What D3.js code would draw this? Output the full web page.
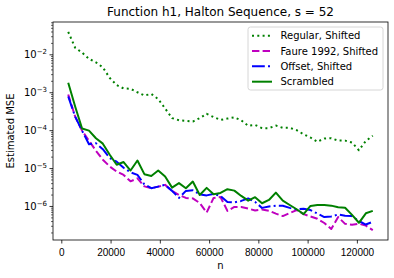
<!DOCTYPE html>
<html>
<head>
<meta charset="utf-8">
<script src="https://cdn.jsdelivr.net/npm/d3@7"></script>
<style>
  body { margin: 0; background: #fff; }
  svg { display: block; font-family: "DejaVu Sans", sans-serif; }
</style>
</head>
<body>
<div id="app"></div>
<script>
const W = 394, H = 278
const margin = { left: 53, right: 6, top: 22, bottom: 38 }

// sample sizes n
const nValues = [2810, 5620, 8430, 11240, 14050, 16860, 19670, 22480, 25290, 28100,
  30910, 33720, 36530, 39340, 42150, 44960, 47770, 50580, 53390, 56200,
  59010, 61820, 64630, 67440, 70250, 73060, 75870, 78680, 81490, 84300,
  87110, 89920, 92730, 95540, 98350, 101160, 103970, 106780, 109590, 112400,
  115210, 118020, 120830, 123640, 126450]

const regularShifted = [0.039, 0.0149, 0.0111, 0.0076, 0.00614, 0.00453, 0.00238, 0.00154, 0.00126, 0.00123,
  0.000997, 0.00082, 0.0009, 0.00066, 0.000372, 0.000208, 0.000182, 0.000176, 0.000168, 0.000208,
  0.00027, 0.000221, 0.000186, 0.000202, 0.000218, 0.000181, 0.00013, 0.000137, 0.000113, 0.000113,
  0.000132, 0.000115, 0.000115, 0.0001, 7.8e-5, 6.4e-5, 4.95e-5, 6.0e-5, 6.1e-5, 5.3e-5,
  5.3e-5, 4.7e-5, 2.95e-5, 5.2e-5, 7.1e-5]

const faureShifted = [8.7e-4, 2.28e-4, 9.7e-5, 5.27e-5, 2.86e-5, 1.66e-5, 1.1e-5, 8.1e-6, 6.6e-6, 4.46e-6,
  5.35e-6, 3.29e-6, 2.94e-6, 3.24e-6, 3.6e-6, 2.5e-6, 1.95e-6, 1.63e-6, 1.58e-6, 1.2e-6,
  6.7e-7, 1.63e-6, 1.73e-6, 7.4e-7, 9.4e-7, 9.4e-7, 8.5e-7, 7.6e-7, 8.1e-7, 7.5e-7,
  6.3e-7, 5.4e-7, 6.5e-7, 7.8e-7, 6.1e-7, 5.3e-7, 4.6e-7, 3.55e-7, 2.46e-7, 5.1e-7,
  3.37e-7, 3.21e-7, 3.4e-7, 3.04e-7, 2.31e-7]

const offsetShifted = [7.7e-4, 2.28e-4, 9.7e-5, 4.26e-5, 4.53e-5, 3.14e-5, 1.84e-5, 1.47e-5, 1.02e-5, 7.7e-6,
  6.6e-6, 3.72e-6, 2.94e-6, 3.24e-6, 3.6e-6, 2.5e-6, 1.63e-6, 2.5e-6, 2.58e-6, 2.02e-6,
  1.9e-6, 2.08e-6, 1.84e-6, 1.28e-6, 1.24e-6, 1.36e-6, 1.58e-6, 1.28e-6, 8.9e-7, 9.7e-7,
  1.02e-6, 1.01e-6, 8.9e-7, 8.2e-7, 8.4e-7, 7.8e-7, 6.3e-7, 5.1e-7, 5.3e-7, 5.96e-7,
  5.5e-7, 5.4e-7, 4.0e-7, 3.24e-7, 3.84e-7]

const scrambled = [1.78e-3, 4.2e-4, 1.1e-4, 9.7e-5, 6.1e-5, 4.4e-5, 2.24e-5, 1.22e-5, 1.44e-5, 8.6e-6,
  1.58e-5, 6.9e-6, 6.2e-6, 8.6e-6, 6.0e-6, 3.05e-6, 4.0e-6, 2.94e-6, 4.4e-6, 1.95e-6,
  3.0e-6, 2.04e-6, 2.21e-6, 2.77e-6, 2.54e-6, 1.84e-6, 1.38e-6, 1.7e-6, 1.18e-6, 1.44e-6,
  2.25e-6, 1.38e-6, 1.06e-6, 8.2e-7, 6.1e-7, 1.0e-6, 1.06e-6, 1.06e-6, 1.02e-6, 9.2e-7,
  9.0e-7, 5.8e-7, 3.6e-7, 6.4e-7, 7.4e-7]

const xTicks = [0, 20000, 40000, 60000, 80000, 100000, 120000]
const yTickExps = [-6, -5, -4, -3, -2]

const series = [
  { name: 'Regular, Shifted', values: regularShifted, color: '#008000', dash: '2,3.3' },
  { name: 'Faure 1992, Shifted', values: faureShifted, color: '#bf00bf', dash: '7.4,3.2' },
  { name: 'Offset, Shifted', values: offsetShifted, color: '#0000ff', dash: '12.8,3.2,2,3.2' },
  { name: 'Scrambled', values: scrambled, color: '#008000', dash: null }
]

const x0 = margin.left, x1 = W - margin.right
const y0 = margin.top, y1 = H - margin.bottom

// matplotlib style 5% margins
const nMin = d3.min(nValues), nMax = d3.max(nValues)
const nPad = (nMax - nMin) * 0.05
const x = d3.scaleLinear().domain([nMin - nPad, nMax + nPad]).range([x0, x1])

const all = series.flatMap(s => s.values)
const lMin = Math.log10(d3.min(all)), lMax = Math.log10(d3.max(all))
const lPad = (lMax - lMin) * 0.05
const y = d3.scaleLog().domain([10 ** (lMin - lPad), 10 ** (lMax + lPad)]).range([y1, y0])

const svg = d3.select('#app').append('svg')
  .attr('width', W)
  .attr('height', H)

svg.append('defs').append('clipPath').attr('id', 'clip')
  .append('rect')
  .attr('x', x0).attr('y', y0)
  .attr('width', x1 - x0).attr('height', y1 - y0)

// lines
const line = d3.line()
  .x((d, i) => x(nValues[i]))
  .y(d => y(d))

const plot = svg.append('g').attr('clip-path', 'url(#clip)')
series.forEach(s => {
  plot.append('path')
    .datum(s.values)
    .attr('d', line)
    .attr('fill', 'none')
    .attr('stroke', s.color)
    .attr('stroke-width', 2)
    .attr('stroke-dasharray', s.dash)
    .attr('stroke-linejoin', 'round')
})

// x axis
const xAxis = svg.append('g')
  .attr('transform', `translate(0,${y1})`)
  .call(d3.axisBottom(x).tickValues(xTicks).tickFormat(d3.format('d')).tickSize(3.5).tickSizeOuter(0))
xAxis.select('.domain').remove()
xAxis.selectAll('text').attr('font-size', 10).attr('fill', '#000').attr('dy', '0.9em')
xAxis.selectAll('line').attr('stroke', '#000').attr('stroke-width', 0.8)

// y axis, major + minor
const minorVals = []
for (let e = -7; e <= -1; e++) {
  for (let m = 2; m <= 9; m++) {
    const v = m * 10 ** e
    if (v >= y.domain()[0] && v <= y.domain()[1]) minorVals.push(v)
  }
}
const yMinor = svg.append('g').attr('transform', `translate(${x0},0)`)
  .call(d3.axisLeft(y).tickValues(minorVals).tickFormat('').tickSize(2).tickSizeOuter(0))
yMinor.select('.domain').remove()
yMinor.selectAll('line').attr('stroke', '#000').attr('stroke-width', 0.6)

const yAxis = svg.append('g').attr('transform', `translate(${x0},0)`)
  .call(d3.axisLeft(y).tickValues(yTickExps.map(e => 10 ** e)).tickFormat('').tickSize(3.5).tickSizeOuter(0))
yAxis.select('.domain').remove()
yAxis.selectAll('line').attr('stroke', '#000').attr('stroke-width', 0.8)

yTickExps.forEach(e => {
  const t = svg.append('text')
    .attr('x', x0 - 6)
    .attr('y', y(10 ** e) + 4)
    .attr('text-anchor', 'end')
    .attr('font-size', 10)
  t.append('tspan').text('10')
  t.append('tspan').attr('dy', -4).attr('font-size', 7).text('\u2212' + Math.abs(e))
})

// frame
svg.append('rect')
  .attr('x', x0).attr('y', y0)
  .attr('width', x1 - x0).attr('height', y1 - y0)
  .attr('fill', 'none')
  .attr('stroke', '#000')
  .attr('stroke-width', 0.8)

// labels
svg.append('text')
  .attr('x', (x0 + x1) / 2).attr('y', 16)
  .attr('text-anchor', 'middle')
  .attr('font-size', 12)
  .text('Function h1, Halton Sequence, s = 52')

svg.append('text')
  .attr('x', (x0 + x1) / 2).attr('y', 269)
  .attr('text-anchor', 'middle')
  .attr('font-size', 10)
  .text('n')

svg.append('text')
  .attr('transform', `translate(13.5,${(y0 + y1) / 2}) rotate(-90)`)
  .attr('text-anchor', 'middle')
  .attr('font-size', 10)
  .text('Estimated MSE')

// legend
const legend = svg.append('g').attr('transform', 'translate(248,27)')
legend.append('rect')
  .attr('width', 135).attr('height', 63)
  .attr('rx', 2.5)
  .attr('fill', '#fff').attr('fill-opacity', 0.8)
  .attr('stroke', '#ccc').attr('stroke-width', 0.8)

series.forEach((s, i) => {
  const cy = 8.7 + i * 15.33
  legend.append('line')
    .attr('x1', 4).attr('x2', 24)
    .attr('y1', cy).attr('y2', cy)
    .attr('stroke', s.color)
    .attr('stroke-width', 2)
    .attr('stroke-dasharray', s.dash)
  legend.append('text')
    .attr('x', 32.5).attr('y', cy + 3.6)
    .attr('font-size', 10)
    .text(s.name)
})
</script>
</body>
</html>
